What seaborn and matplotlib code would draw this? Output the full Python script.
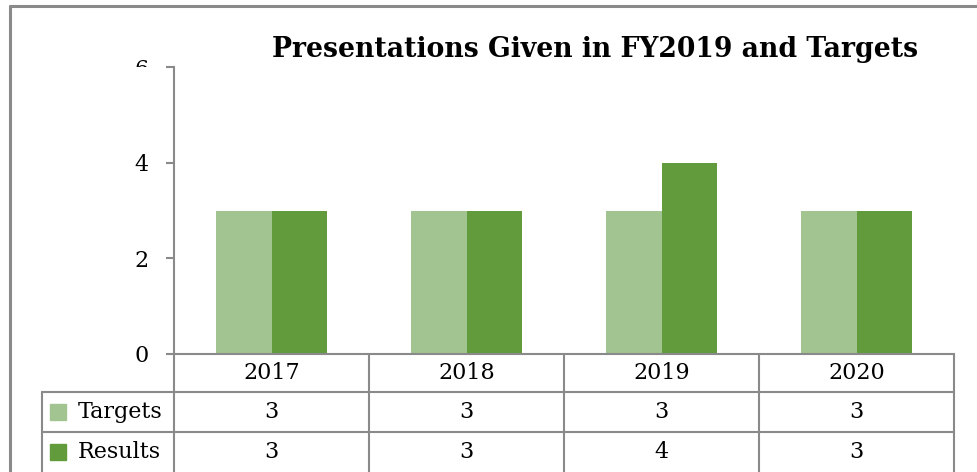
import numpy as np
import matplotlib.pyplot as plt
import pandas as pd
import seaborn as sns
from matplotlib.lines import Line2D
from matplotlib.transforms import Bbox, TransformedBbox, blended_transform_factory

# data
years = ['2017', '2018', '2019', '2020']
targets = [3, 3, 3, 3]
results = [3, 3, 4, 3]
series = ['Targets', 'Results']
colors = ['#A2C490', '#629B3B']
title = 'Presentations Given in FY2019 and Targets'

df = pd.DataFrame({
    'year': years * 2,
    'count': targets + results,
    'series': [series[0]] * len(years) + [series[1]] * len(years),
})

sns.set_style('white')
plt.rcParams['font.family'] = ['DejaVu Serif']
plt.rcParams['text.color'] = 'black'
plt.rcParams['ytick.labelcolor'] = 'black'

W, H = 977, 472
grey = '#8a8a8a'
fig = plt.figure(figsize=(W / 100, H / 100), dpi=100)
ax = fig.add_axes([174 / W, 1 - 354 / H, (954 - 174) / W, (354 - 67) / H])

sns.barplot(data=df, x='year', y='count', hue='series', palette=colors,
            width=0.574, saturation=1, errorbar=None, linewidth=0,
            legend=False, ax=ax)

ax.set_xlim(-0.5, len(years) - 0.5)
ax.set_ylim(0, 6)
ax.set_yticks([0, 2, 4, 6])
ax.set_xticks([])
ax.set_xlabel('')
ax.set_ylabel('')
for s in ['top', 'right']:
    ax.spines[s].set_visible(False)
for s in ['left', 'bottom']:
    ax.spines[s].set_color(grey)
    ax.spines[s].set_linewidth(1.5)
ax.tick_params(axis='y', left=True, direction='out', length=6, width=1.5,
               color=grey, pad=12.5, labelsize=16, labelcolor='black')

# top label gets cut at the axis top like in the original
lab = ax.get_yticklabels()[-1]
lab.set_clip_box(TransformedBbox(Bbox([[-1, 1], [0, 2]]), ax.transAxes))
lab.set_clip_on(True)

# data table under the plot
tr = blended_transform_factory(ax.transData, ax.transAxes)
ax_h = 354 - 67
hdr = -38 / ax_h
row = -40 / ax_h
left_edge = -0.5 - (174 - 42) / 195
x_right = len(years) - 0.5
lkw = dict(color=grey, lw=1.5, transform=tr, clip_on=False)

ax.plot([left_edge, x_right], [hdr, hdr], **lkw)
ax.plot([left_edge, x_right], [hdr + row, hdr + row], **lkw)
ax.plot([left_edge, left_edge], [hdr, -1], **lkw)
for i in range(len(years) + 1):
    ax.plot([i - 0.5, i - 0.5], [0, -1], **lkw)

for i, y in enumerate(years):
    ax.text(i, hdr / 2, y, transform=tr, ha='center', va='center',
            fontsize=16, color='black')

rows = [targets, results]
for r, (name, vals, c) in enumerate(zip(series, rows, colors)):
    yc = hdr + row * (r + 0.5)
    for i, v in enumerate(vals):
        ax.text(i, yc, str(v), transform=tr, ha='center', va='center',
                fontsize=16, color='black')
    ax.plot([-0.5 - (174 - 58.5) / 195], [yc], marker='s', markersize=11,
            color=c, transform=tr, clip_on=False, linestyle='none')
    ax.text(-0.5 - (174 - 78) / 195, yc, name, transform=tr, ha='left',
            va='center', fontsize=16, color='black')

fig.text(595 / W, 1 - 57 / H, title, ha='center', va='baseline',
         fontsize=19.2, fontweight='bold', color='black')

# outer frame
fig.add_artist(Line2D([10 / W, 1], [1 - 5.5 / H] * 2, color=grey, lw=2.2,
                      transform=fig.transFigure))
fig.add_artist(Line2D([10 / W] * 2, [0, 1 - 5.5 / H], color=grey, lw=2.2,
                      transform=fig.transFigure))

fig.savefig('out.png', dpi=100)
